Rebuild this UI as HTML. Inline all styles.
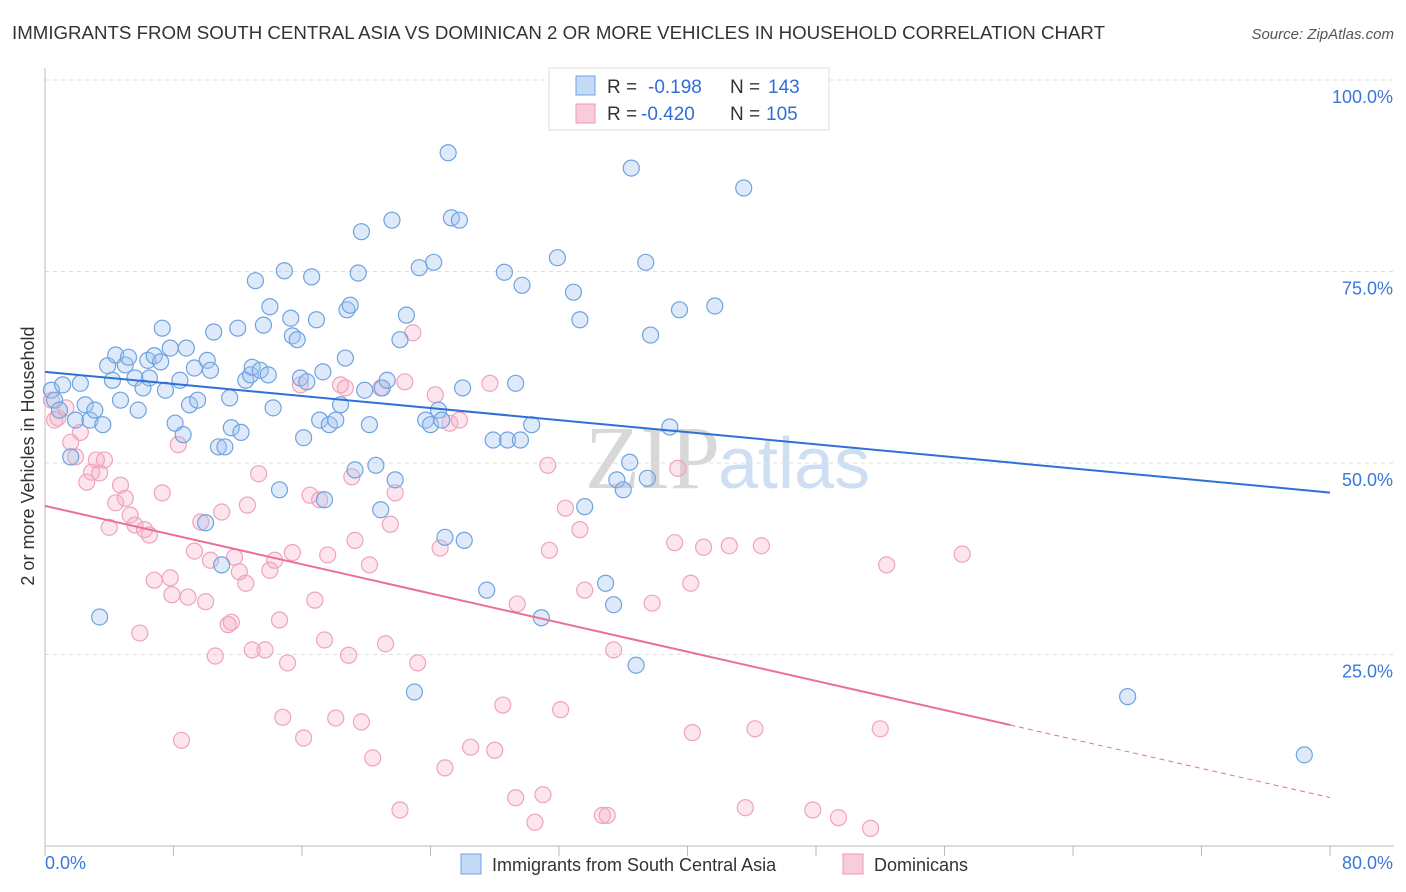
<!DOCTYPE html>
<html><head><meta charset="utf-8"><style>
body{margin:0;background:#fff;font-family:"Liberation Sans",sans-serif;}
svg{display:block}
</style></head><body>
<svg id="chart" width="1406" height="892">
<text x="12" y="39" font-size="18" fill="#333" textLength="1093" lengthAdjust="spacingAndGlyphs">IMMIGRANTS FROM SOUTH CENTRAL ASIA VS DOMINICAN 2 OR MORE VEHICLES IN HOUSEHOLD CORRELATION CHART</text>
<text x="1394" y="39" font-size="15" fill="#555" font-style="italic" text-anchor="end">Source: ZipAtlas.com</text>
<text x="34" y="456" font-size="18" fill="#333" text-anchor="middle" transform="rotate(-90 34 456)">2 or more Vehicles in Household</text>
<text x="720" y="488" font-size="90" fill="#d8d8d8" text-anchor="end" font-family="Liberation Serif,serif">ZIP</text>
<text x="718" y="488" font-size="72" fill="#cfdff3">atlas</text>
<g id="grid"></g><g id="pts"></g><g id="lines"></g>
<g>
<rect x="549" y="68" width="280" height="62" fill="#fff" stroke="#ddd"/>
<rect x="576" y="76" width="19" height="19" fill="#c4dbf7" stroke="#6fa3e0"/>
<text x="607" y="93" font-size="19" fill="#333">R =</text>
<text x="648" y="93" font-size="19" fill="#2f6fd6">-0.198</text>
<text x="730" y="93" font-size="19" fill="#333">N =</text>
<text x="768" y="93" font-size="19" fill="#2f6fd6">143</text>
<rect x="576" y="104" width="19" height="19" fill="#f8cddb" stroke="#ee9ab5"/>
<text x="607" y="120" font-size="19" fill="#333">R =</text>
<text x="641" y="120" font-size="19" fill="#2f6fd6">-0.420</text>
<text x="730" y="120" font-size="19" fill="#333">N =</text>
<text x="766" y="120" font-size="19" fill="#2f6fd6">105</text>
</g>
<g>
<rect x="461" y="854" width="20" height="20" fill="#c4dbf7" stroke="#6fa3e0"/>
<text x="492" y="871" font-size="18" fill="#333">Immigrants from South Central Asia</text>
<rect x="843" y="854" width="20" height="20" fill="#f8cddb" stroke="#ee9ab5"/>
<text x="874" y="871" font-size="18" fill="#333">Dominicans</text>
</g>
</svg>
<script>
const yTicks=[25,50,75,100];
const yTickLabels=["25.0%","50.0%","75.0%","100.0%"];
const xTicks=[0,8,16,24,32,40,48,56,64,72,80];
const xMin=0,xMax=80,yMin=0,yMax=100;
const asiaX=[0.4,0.6,0.9,1.1,1.6,1.9,2.2,2.5,2.8,3.1,3.4,3.6,3.9,4.2,4.4,4.7,5.0,5.2,5.6,5.8,6.1,6.4,6.5,6.8,7.2,7.3,7.5,7.8,8.1,8.4,8.6,8.8,9.0,9.3,9.5,10.0,10.1,10.3,10.5,10.8,11.0,11.2,11.5,11.6,12.0,12.2,12.5,12.8,12.9,13.1,13.4,13.6,13.9,14.0,14.2,14.6,14.9,15.3,15.4,15.7,15.9,16.1,16.3,16.6,16.9,17.1,17.3,17.4,17.7,18.1,18.4,18.7,18.8,19.0,19.3,19.5,19.7,19.9,20.2,20.6,20.9,21.0,21.3,21.6,21.8,22.1,22.5,23.0,23.3,23.7,24.0,24.2,24.5,24.7,24.9,25.1,25.3,25.8,26.0,26.1,27.5,27.9,28.6,28.8,29.3,29.6,29.7,30.3,30.9,31.9,32.9,33.3,33.6,34.9,35.4,35.6,36.0,36.4,36.5,36.8,37.4,37.5,37.7,38.9,39.5,41.7,43.5,67.4,78.4];
const asiaY=[59.5,58.2,56.9,60.2,50.8,55.6,60.4,57.6,55.6,56.9,29.9,55.0,62.7,60.8,64.1,58.2,62.8,63.8,61.1,56.9,59.8,63.4,61.1,64.0,63.2,67.6,59.5,65.0,55.2,60.8,53.7,65.0,57.6,62.4,58.2,42.2,63.4,62.1,67.1,52.1,36.7,52.1,58.5,54.6,67.6,54.0,60.8,61.5,62.5,73.8,62.1,68.0,61.5,70.4,57.2,46.5,75.1,68.9,66.6,66.1,61.1,53.3,60.6,74.3,68.7,55.6,61.9,45.2,55.0,55.6,57.6,63.7,70.0,70.6,49.1,74.8,80.2,59.5,55.0,49.7,43.9,59.8,60.8,81.7,47.8,66.1,69.3,20.1,75.5,55.6,55.0,76.2,56.9,55.6,40.3,90.5,82.0,81.7,59.8,39.9,33.4,53.0,74.9,53.0,60.4,53.0,73.2,55.0,29.8,76.8,72.3,68.7,44.3,34.3,31.5,47.8,46.5,50.1,88.5,23.6,76.2,48.0,66.7,54.7,70.0,70.5,85.9,19.5,11.9];
const domX=[0.4,0.6,0.8,1.3,1.6,1.9,2.2,2.6,2.9,3.2,3.4,3.7,4.0,4.4,4.7,5.0,5.3,5.6,5.9,6.2,6.5,6.8,7.3,7.8,7.9,8.3,8.5,8.9,9.3,9.7,10.0,10.3,10.6,11.0,11.4,11.6,11.8,12.1,12.5,12.6,12.9,13.3,13.7,14.0,14.3,14.6,14.8,15.1,15.4,15.9,16.1,16.5,16.8,17.1,17.4,17.6,18.1,18.4,18.7,18.9,19.1,19.3,19.7,20.2,20.4,20.9,21.2,21.5,21.8,22.1,22.4,22.9,23.2,24.3,24.6,24.9,25.2,25.8,26.5,27.7,28.0,28.5,29.3,29.4,30.5,31.0,31.3,31.4,32.1,32.4,33.3,33.6,34.7,35.0,35.4,37.8,39.2,39.4,40.2,40.3,41.0,42.6,43.6,44.2,44.6,47.8,49.4,51.4,52.0,52.4,57.1];
const domY=[58.2,55.6,55.9,57.2,52.7,50.8,54.0,47.5,48.8,50.4,48.7,50.4,41.6,44.8,47.1,45.4,43.2,41.9,27.8,41.3,40.6,34.7,46.1,35.0,32.8,52.4,13.8,32.5,38.5,42.3,31.9,37.3,24.8,43.6,28.9,29.2,37.7,35.8,34.3,44.5,25.6,48.6,25.6,36.0,37.3,29.5,16.8,23.9,38.3,60.2,14.1,45.8,32.1,45.2,26.9,38.0,16.7,60.2,59.8,24.9,48.2,39.9,16.2,36.7,11.5,59.8,26.4,42.0,46.1,4.7,60.6,67.0,23.9,58.9,38.9,10.2,55.2,55.6,12.9,60.4,12.5,18.4,6.3,31.6,3.1,6.7,49.7,38.6,17.8,44.1,41.3,33.4,4.0,4.0,25.6,31.7,39.6,49.3,34.3,14.8,39.0,39.2,5.0,15.3,39.2,4.7,3.7,2.3,15.3,36.7,38.1];
const asiaTrend=[61.9,-0.197];
const domTrend=[44.4,-0.476];
const domSolidEnd=60.1;

const X0=45,X1=1330,Y0=846,Y1=80;
const sx=v=>X0+(v-xMin)/(xMax-xMin)*(X1-X0);
const sy=v=>Y0-(v-yMin)/(yMax-yMin)*(Y0-Y1);
const NS="http://www.w3.org/2000/svg";
function mk(t,a,p){const e=document.createElementNS(NS,t);for(const k in a)e.setAttribute(k,a[k]);p.appendChild(e);return e;}
const grid=document.getElementById('grid');
yTicks.forEach((t,i)=>{
  const l=mk('line',{x1:X0,x2:1394,y1:sy(t),y2:sy(t),stroke:'#ddd','stroke-dasharray':'4,4'},grid);
  
  
  const tx=mk('text',{x:1393,y:sy(t)+23,'font-size':18,fill:'#3a78d8','text-anchor':'end'},grid);
  tx.textContent=yTickLabels[i];
  
  
});
const ax=mk('line',{x1:X0,x2:X0,y1:68,y2:Y0,stroke:'#bbb'},grid);


const bx=mk('line',{x1:X0,x2:1394,y1:Y0,y2:Y0,stroke:'#bbb'},grid);


xTicks.forEach(t=>{
  const l=mk('line',{x1:sx(t),x2:sx(t),y1:Y0,y2:Y0+10,stroke:'#bbb'},grid);
  
  
});
const xl0=mk('text',{x:45,y:869,'font-size':18,fill:'#3a78d8'},grid);xl0.textContent='0.0%';


const xl1=mk('text',{x:1393,y:869,'font-size':18,fill:'#3a78d8','text-anchor':'end'},grid);xl1.textContent='80.0%';


const pts=document.getElementById('pts');
domX.forEach((x,i)=>{
  const c=mk('circle',{cx:sx(x),cy:sy(domY[i]),r:8,fill:'rgba(244,170,195,0.3)',stroke:'#f0a3bb','stroke-width':1.2},pts);
  
  
});
asiaX.forEach((x,i)=>{
  const c=mk('circle',{cx:sx(x),cy:sy(asiaY[i]),r:8,fill:'rgba(160,196,240,0.35)',stroke:'#6fa3e0','stroke-width':1.2},pts);
  
  
});
const ln=document.getElementById('lines');
const la=mk('line',{x1:sx(0),y1:sy(asiaTrend[0]),x2:sx(80),y2:sy(asiaTrend[0]+asiaTrend[1]*80),stroke:'#2f6fd6','stroke-width':2},ln);


const ld=mk('line',{x1:sx(0),y1:sy(domTrend[0]),x2:sx(domSolidEnd),y2:sy(domTrend[0]+domTrend[1]*domSolidEnd),stroke:'#e8709a','stroke-width':2},ln);


const ldd=mk('line',{x1:sx(domSolidEnd),y1:sy(domTrend[0]+domTrend[1]*domSolidEnd),x2:sx(80),y2:sy(domTrend[0]+domTrend[1]*80),stroke:'#e8709a','stroke-width':1,'stroke-dasharray':'5,4'},ln);


</script>
</body></html>
